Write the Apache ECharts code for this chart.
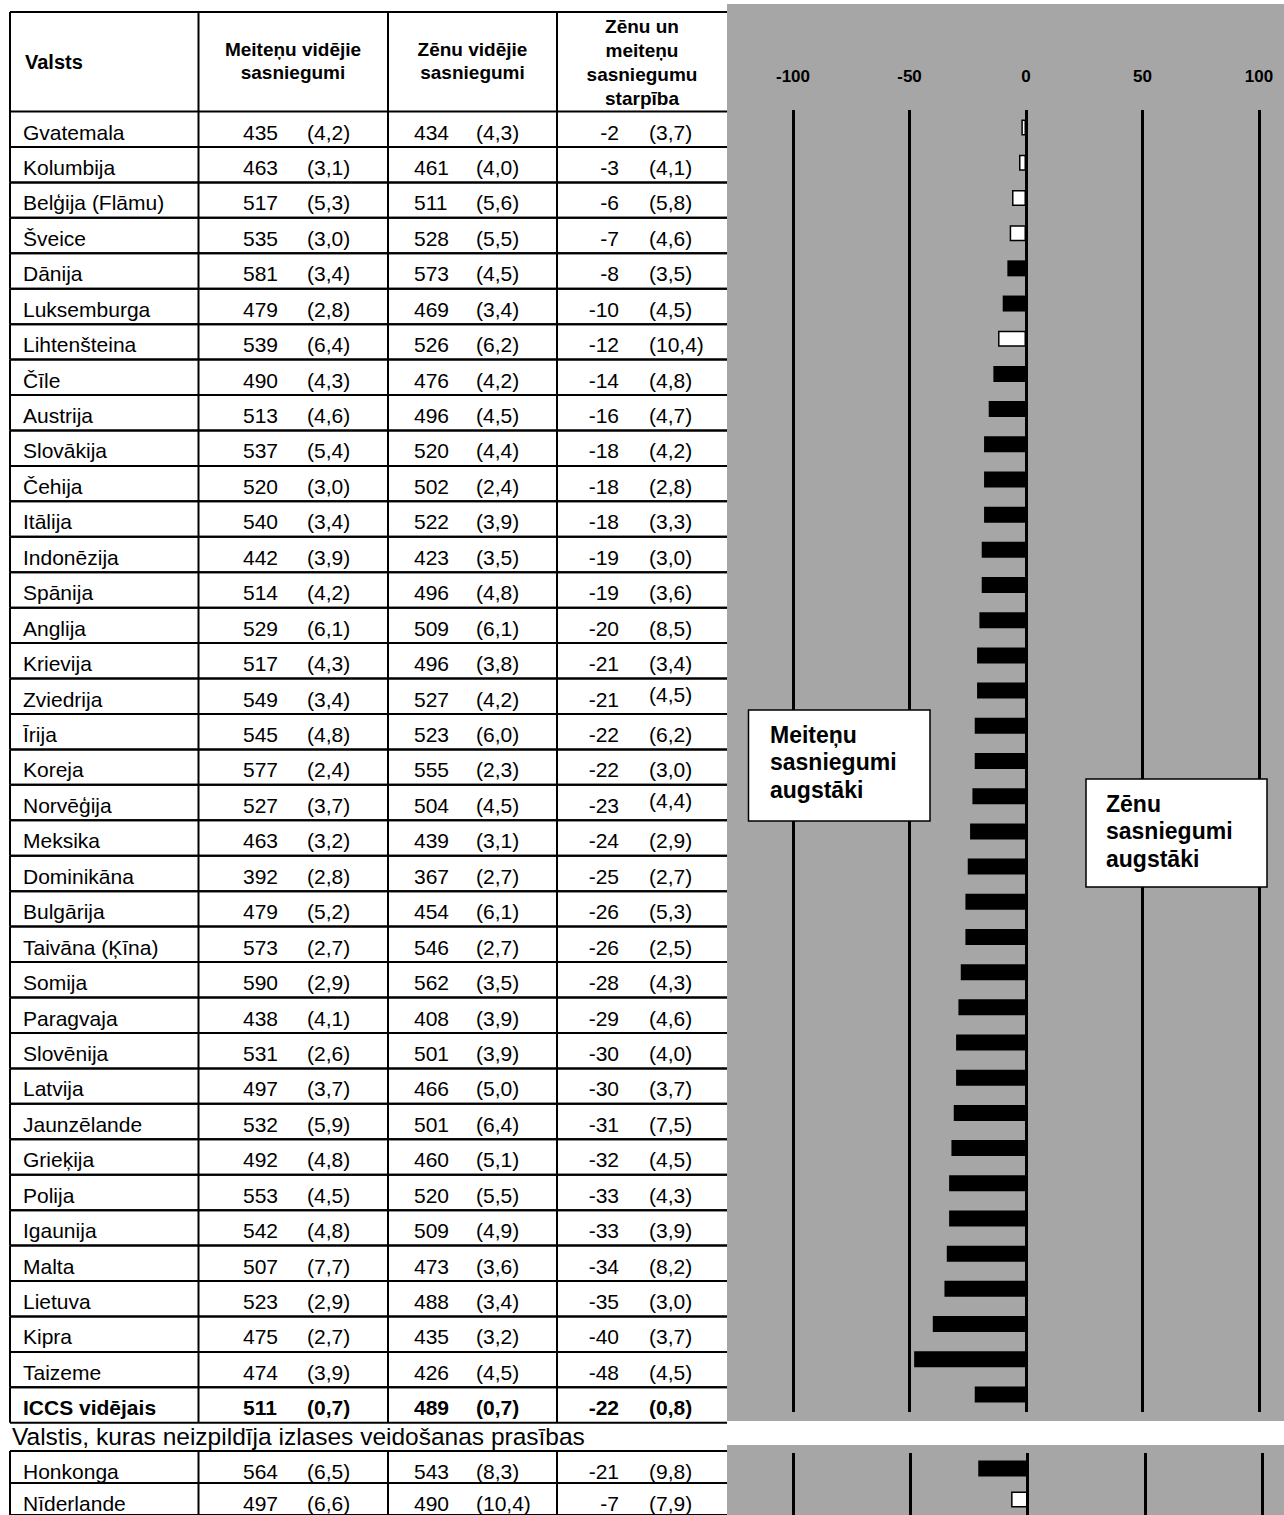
<!DOCTYPE html>
<html>
<head>
<meta charset="utf-8">
<script src="https://cdn.jsdelivr.net/npm/echarts@6/dist/echarts.min.js"></script>
<style>
  html, body { margin: 0; padding: 0; background: #fff; }
  #chart { width: 1284px; height: 1515px; }
</style>
</head>
<body>
<div id="chart"></div>
<script>
// ---------- data ----------
const countries = ["Gvatemala","Kolumbija","Belģija (Flāmu)","Šveice","Dānija","Luksemburga","Lihtenšteina","Čīle","Austrija","Slovākija","Čehija","Itālija","Indonēzija","Spānija","Anglija","Krievija","Zviedrija","Īrija","Koreja","Norvēģija","Meksika","Dominikāna","Bulgārija","Taivāna (Ķīna)","Somija","Paragvaja","Slovēnija","Latvija","Jaunzēlande","Grieķija","Polija","Igaunija","Malta","Lietuva","Kipra","Taizeme","ICCS vidējais"];
const girlsMean = [435,463,517,535,581,479,539,490,513,537,520,540,442,514,529,517,549,545,577,527,463,392,479,573,590,438,531,497,532,492,553,542,507,523,475,474,511];
const girlsSE   = [4.2,3.1,5.3,3.0,3.4,2.8,6.4,4.3,4.6,5.4,3.0,3.4,3.9,4.2,6.1,4.3,3.4,4.8,2.4,3.7,3.2,2.8,5.2,2.7,2.9,4.1,2.6,3.7,5.9,4.8,4.5,4.8,7.7,2.9,2.7,3.9,0.7];
const boysMean  = [434,461,511,528,573,469,526,476,496,520,502,522,423,496,509,496,527,523,555,504,439,367,454,546,562,408,501,466,501,460,520,509,473,488,435,426,489];
const boysSE    = [4.3,4.0,5.6,5.5,4.5,3.4,6.2,4.2,4.5,4.4,2.4,3.9,3.5,4.8,6.1,3.8,4.2,6.0,2.3,4.5,3.1,2.7,6.1,2.7,3.5,3.9,3.9,5.0,6.4,5.1,5.5,4.9,3.6,3.4,3.2,4.5,0.7];
const diff      = [-2,-3,-6,-7,-8,-10,-12,-14,-16,-18,-18,-18,-19,-19,-20,-21,-21,-22,-22,-23,-24,-25,-26,-26,-28,-29,-30,-30,-31,-32,-33,-33,-34,-35,-40,-48,-22];
const diffSE    = [3.7,4.1,5.8,4.6,3.5,4.5,10.4,4.8,4.7,4.2,2.8,3.3,3.0,3.6,8.5,3.4,4.5,6.2,3.0,4.4,2.9,2.7,5.3,2.5,4.3,4.6,4.0,3.7,7.5,4.5,4.3,3.9,8.2,3.0,3.7,4.5,0.8];

const otherCountries = ["Honkonga","Nīderlande"];
const otherGirlsMean = [564,497];
const otherGirlsSE   = [6.5,6.6];
const otherBoysMean  = [543,490];
const otherBoysSE    = [8.3,10.4];
const otherDiff      = [-21,-7];
const otherDiffSE    = [9.8,7.9];

// ---------- helpers ----------
const FAM = '"Liberation Sans", Arial, Helvetica, sans-serif';
const fmtSE = v => '(' + v.toFixed(1).replace('.', ',') + ')';
const raisedDiffSE = new Set(['Zviedrija', 'Norvēģija']);

function tableRenderer(names, gm, gse, bm, bse, d, dse, boldIdx) {
  return function (params, api) {
    const i = api.value(1);
    const c = api.coord([0, i]);
    const h = api.size([0, 1])[1];
    const top = c[1] - h / 2, bot = c[1] + h / 2;
    const X = v => api.coord([v, i])[0];
    const ty = top + 20.5;
    const font = (i === boldIdx ? 'bold ' : '') + '21px ' + FAM;
    const kids = [];
    const ln = (x1, y1, x2, y2) => kids.push({type: 'line', shape: {x1, y1, x2, y2}, style: {stroke: '#000', lineWidth: 2}});
    ln(X(0), top, X(717), top);
    ln(X(0), bot, X(717), bot);
    [0, 188.5, 378, 547].forEach(v => ln(X(v), top, X(v), bot));
    const tx = (text, xv, align, dy) => kids.push({
      type: 'text', x: X(xv), y: ty + (dy || 0),
      style: {text: text, font: font, fill: '#000', align: align, verticalAlign: 'middle'}
    });
    tx(names[i], 13, 'left');
    tx(String(gm[i]), 233, 'left');
    tx(fmtSE(gse[i]), 297, 'left');
    tx(String(bm[i]), 404, 'left');
    tx(fmtSE(bse[i]), 466, 'left');
    tx(String(d[i]), 609, 'right');
    tx(fmtSE(dse[i]), 639, 'left', raisedDiffSE.has(names[i]) ? -5 : 0);
    return {type: 'group', children: kids};
  };
}

function barData(d, dse) {
  return d.map((v, i) => {
    const sig = Math.abs(v) > 1.96 * dse[i];
    return {
      value: v,
      itemStyle: sig ? {color: '#000', borderWidth: 0}
                     : {color: '#fff', borderColor: '#000', borderWidth: 1.5}
    };
  });
}

const chart = echarts.init(document.getElementById('chart'), null, {renderer: 'svg', width: 1284, height: 1515});

const hdrFont = 'bold 19px ' + FAM;
const boxFont = 'bold 23px ' + FAM;

const option = {
  backgroundColor: '#fff',
  animation: false,
  grid: [
    {left: 10, width: 717, top: 111.5, height: 37 * 35.44},   // main table
    {left: 793, width: 466, top: 110, height: 1302},          // main bars
    {left: 10, width: 717, top: 1451, height: 71},            // extra table
    {left: 793, width: 469, top: 1453, height: 70}            // extra bars
  ],
  xAxis: [
    {gridIndex: 0, type: 'value', min: 0, max: 717, show: false},
    {gridIndex: 1, type: 'value', min: -100, max: 100, interval: 50, position: 'top',
     axisLine: {show: false}, axisTick: {show: false},
     axisLabel: {margin: 25, color: '#000', fontSize: 17, fontWeight: 'bold', fontFamily: FAM},
     splitLine: {show: true, lineStyle: {color: '#000', width: 3}}},
    {gridIndex: 2, type: 'value', min: 0, max: 717, show: false},
    {gridIndex: 3, type: 'value', min: -100, max: 100, interval: 50,
     axisLine: {show: false}, axisTick: {show: false}, axisLabel: {show: false},
     splitLine: {show: true, lineStyle: {color: '#000', width: 3}}}
  ],
  yAxis: [
    {gridIndex: 0, type: 'category', data: countries, inverse: true, show: false},
    {gridIndex: 1, type: 'category', data: countries, inverse: true, show: false},
    {gridIndex: 2, type: 'category', data: otherCountries, inverse: true, show: false},
    {gridIndex: 3, type: 'category', data: otherCountries, inverse: true, show: false}
  ],
  graphic: [
    // gray chart panels
    {type: 'rect', z: -10, shape: {x: 727, y: 4, width: 557, height: 1417}, style: {fill: '#a6a6a6'}},
    {type: 'rect', z: -10, shape: {x: 727, y: 1445, width: 557, height: 70}, style: {fill: '#a6a6a6'}},
    // table header lines
    {type: 'line', shape: {x1: 10, y1: 12, x2: 727, y2: 12}, style: {stroke: '#000', lineWidth: 2}},
    {type: 'line', shape: {x1: 10, y1: 12, x2: 10, y2: 112}, style: {stroke: '#000', lineWidth: 2}},
    {type: 'line', shape: {x1: 198.5, y1: 12, x2: 198.5, y2: 112}, style: {stroke: '#000', lineWidth: 2}},
    {type: 'line', shape: {x1: 388, y1: 12, x2: 388, y2: 112}, style: {stroke: '#000', lineWidth: 2}},
    {type: 'line', shape: {x1: 557, y1: 12, x2: 557, y2: 112}, style: {stroke: '#000', lineWidth: 2}},
    // header texts
    {type: 'text', x: 25, y: 62, style: {text: 'Valsts', font: 'bold 20px ' + FAM, fill: '#000', align: 'left', verticalAlign: 'middle'}},
    {type: 'text', x: 293, y: 61, style: {text: 'Meiteņu vidējie\nsasniegumi', font: hdrFont, lineHeight: 23, fill: '#000', align: 'center', verticalAlign: 'middle'}},
    {type: 'text', x: 472.5, y: 61, style: {text: 'Zēnu vidējie\nsasniegumi', font: hdrFont, lineHeight: 23, fill: '#000', align: 'center', verticalAlign: 'middle'}},
    {type: 'text', x: 642, y: 62, style: {text: 'Zēnu un\nmeiteņu\nsasniegumu\nstarpība', font: hdrFont, lineHeight: 24, fill: '#000', align: 'center', verticalAlign: 'middle'}},
    // caption between tables
    {type: 'text', x: 12, y: 1436, style: {text: 'Valstis, kuras neizpildīja izlases veidošanas prasības', font: '24.5px ' + FAM, fill: '#000', align: 'left', verticalAlign: 'middle'}},
    // annotation boxes
    {type: 'rect', z: 50, shape: {x: 748.5, y: 710, width: 181.5, height: 111}, style: {fill: '#fff', stroke: '#000', lineWidth: 1.5}},
    {type: 'text', z: 51, x: 770, y: 762, style: {text: 'Meiteņu\nsasniegumi\naugstāki', font: boxFont, lineHeight: 27.5, fill: '#000', align: 'left', verticalAlign: 'middle'}},
    {type: 'rect', z: 50, shape: {x: 1086, y: 779, width: 181, height: 108}, style: {fill: '#fff', stroke: '#000', lineWidth: 1.5}},
    {type: 'text', z: 51, x: 1106, y: 831, style: {text: 'Zēnu\nsasniegumi\naugstāki', font: boxFont, lineHeight: 27.5, fill: '#000', align: 'left', verticalAlign: 'middle'}}
  ],
  series: [
    {
      type: 'custom', xAxisIndex: 0, yAxisIndex: 0, silent: true, clip: false,
      encode: {x: 0, y: 1},
      data: countries.map((n, i) => [0, i]),
      renderItem: tableRenderer(countries, girlsMean, girlsSE, boysMean, boysSE, diff, diffSE, countries.length - 1)
    },
    {
      type: 'bar', xAxisIndex: 1, yAxisIndex: 1, barWidth: 16, silent: true,
      data: barData(diff, diffSE)
    },
    {
      type: 'custom', xAxisIndex: 2, yAxisIndex: 2, silent: true, clip: false,
      encode: {x: 0, y: 1},
      data: otherCountries.map((n, i) => [0, i]),
      renderItem: tableRenderer(otherCountries, otherGirlsMean, otherGirlsSE, otherBoysMean, otherBoysSE, otherDiff, otherDiffSE, -1)
    },
    {
      type: 'bar', xAxisIndex: 3, yAxisIndex: 3, barWidth: 16, silent: true,
      data: barData(otherDiff, otherDiffSE)
    }
  ]
};
chart.setOption(option);
</script>
</body>
</html>
